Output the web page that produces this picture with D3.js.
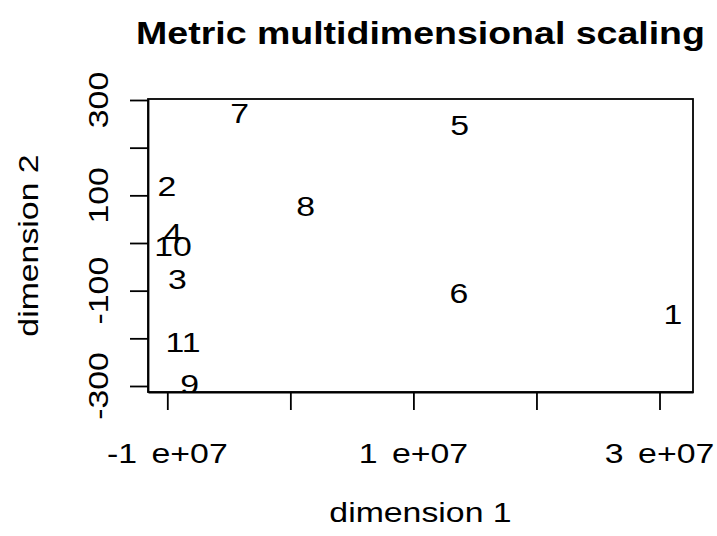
<!DOCTYPE html>
<html>
<head>
<meta charset="utf-8">
<script src="https://cdn.jsdelivr.net/npm/d3@7"></script>
<style>
  html, body { margin: 0; padding: 0; background: #fff; }
  text { font-family: "Liberation Sans", Arial, Helvetica, sans-serif; fill: #000; }
</style>
</head>
<body>
<script>
// ---- data ----
const labels = ["1","2","3","4","5","6","7","8","9","10","11"];
const dim1 = [3.109e7, -1.003e7, -0.918e7, -0.954e7, 1.376e7, 1.370e7, -0.412e7, 0.124e7, -0.818e7, -0.954e7, -0.873e7];
const dim2 = [-148.5, 119.2, -76.6, 19.9, 246.5, -105.9, 271.7, 77.2, -296.8, -5.6, -207.3];

const xLimits = [-1.1569e7, 3.2722e7];
const yLimits = [-312.6, 302.1];
const xTicks = [-1e7, 0, 1e7, 2e7, 3e7];
const xTickLabels = ["-1e+07", "", "1e+07", "", "3e+07"];
const yTicks = [-300, -200, -100, 0, 100, 200, 300];
const yTickLabels = ["-300", "", "-100", "", "100", "", "300"];

const titleText = "Metric multidimensional scaling";
const xLabel = "dimension 1";
const yLabel = "dimension 2";

// ---- layout ----
const W = 717, H = 536;
const box = { left: 148, right: 693, top: 99, bottom: 392 };
const fs = 27.5, fsTitle = 30.5, stretch = 1.23;

const svg = d3.select("body").append("svg")
  .attr("width", W).attr("height", H);

const x = d3.scaleLinear().domain(xLimits).range([box.left, box.right]);
const y = d3.scaleLinear().domain(yLimits).range([box.bottom, box.top]);

function stext(parent, tx, ty, rot, str, size, weight) {
  const g = parent.append("g")
    .attr("transform", `translate(${tx},${ty}) rotate(${rot}) scale(${stretch},1)`);
  return g.append("text")
    .attr("text-anchor", "middle")
    .style("font-size", size + "px")
    .style("font-weight", weight || "normal")
    .text(str);
}

svg.append("clipPath").attr("id", "plotclip")
  .append("rect")
  .attr("x", box.left).attr("y", box.top)
  .attr("width", box.right - box.left).attr("height", box.bottom - box.top);

const xAxis = d3.axisBottom(x).tickValues(xTicks).tickSize(18).tickSizeOuter(0).tickFormat("");
const gx = svg.append("g").attr("transform", `translate(0,${box.bottom})`).call(xAxis);
const yAxis = d3.axisLeft(y).tickValues(yTicks).tickSize(18).tickSizeOuter(0).tickFormat("");
const gy = svg.append("g").attr("transform", `translate(${box.left},0)`).call(yAxis);
[gx, gy].forEach(g => {
  g.selectAll("line").attr("stroke", "#000").attr("stroke-width", 1.8);
  g.select(".domain").attr("stroke", "#000").attr("stroke-width", 1.8);
});

svg.append("rect")
  .attr("x", box.left).attr("y", box.top)
  .attr("width", box.right - box.left).attr("height", box.bottom - box.top)
  .attr("fill", "none").attr("stroke", "#000").attr("stroke-width", 1.8);

xTicks.forEach((t, i) => {
  const lab = xTickLabels[i];
  if (!lab) return;
  const parts = lab.split("e");
  const g = svg.append("g")
    .attr("transform", `translate(${x(t)},463) scale(${stretch},1)`);
  const tx = g.append("text").attr("text-anchor", "middle").style("font-size", fs + "px");
  tx.append("tspan").text(parts[0]);
  tx.append("tspan").attr("dx", 11.8).text("e" + parts[1]);
});

yTicks.forEach((t, i) => {
  const lab = yTickLabels[i];
  if (!lab) return;
  stext(svg, 108.3, y(t), -90, lab, fs);
});

const pts = svg.append("g").attr("clip-path", "url(#plotclip)");
labels.forEach((lab, i) => {
  stext(pts, x(dim1[i]), y(dim2[i]) + 0.358 * fs, 0, lab, fs);
});

const cx = (box.left + box.right) / 2;
stext(svg, cx, 44, 0, titleText, fsTitle, "bold");
stext(svg, cx, 522, 0, xLabel, fs);
stext(svg, 38.3, (box.top + box.bottom) / 2, -90, yLabel, fs);
</script>
</body>
</html>
